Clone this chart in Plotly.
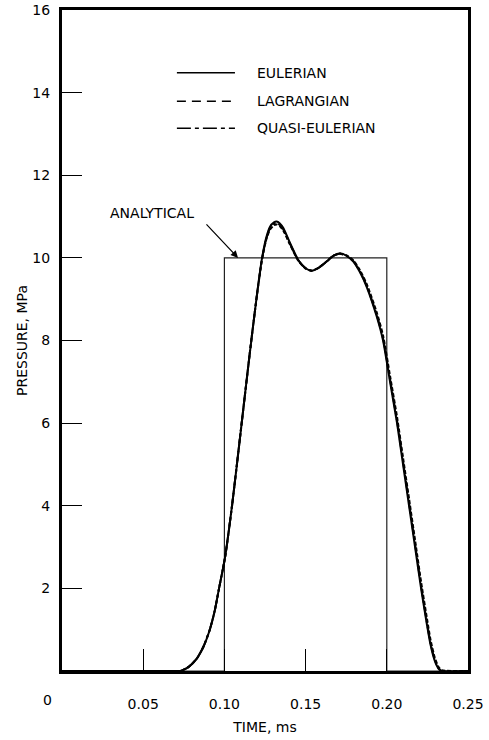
import plotly.graph_objects as go

# ---- data ----
time_ms = [0.0, 0.070, 0.0727, 0.078, 0.083, 0.087, 0.091, 0.094, 0.0967, 0.1004,
           0.1047, 0.1102, 0.1158, 0.1200, 0.123, 0.1255, 0.128, 0.1305, 0.1322, 0.134,
           0.1363, 0.1404, 0.1455, 0.150, 0.1538, 0.158, 0.163, 0.1671, 0.1712, 0.1753,
           0.1794, 0.1835, 0.1876, 0.1938, 0.1977, 0.2020, 0.2063, 0.2100, 0.2137, 0.2174,
           0.2211, 0.2246, 0.2270, 0.2295, 0.2318, 0.2338, 0.25]
eulerian = [0.0, 0.0, 0.0, 0.1, 0.3, 0.58, 1.0, 1.45, 2.0, 2.75,
            4.0, 5.85, 7.75, 9.1, 9.95, 10.45, 10.75, 10.86, 10.88, 10.84,
            10.72, 10.36, 9.95, 9.75, 9.69, 9.76, 9.91, 10.05, 10.11, 10.05,
            9.91, 9.65, 9.3, 8.58, 8.0, 7.0, 6.0, 5.0, 4.0, 3.0,
            2.0, 1.15, 0.62, 0.25, 0.06, 0.0, 0.0]
lagrangian = [0.0, 0.0, 0.0, 0.1, 0.3, 0.58, 1.0, 1.45, 2.0, 2.75,
              4.0, 5.85, 7.75, 9.08, 9.92, 10.4, 10.68, 10.79, 10.81, 10.77,
              10.66, 10.32, 9.93, 9.74, 9.69, 9.76, 9.92, 10.06, 10.1, 10.06,
              9.94, 9.7, 9.37, 8.68, 8.12, 7.14, 6.15, 5.16, 4.17, 3.17,
              2.16, 1.3, 0.74, 0.33, 0.1, 0.02, 0.0]
quasi_eulerian = [0.0, 0.0, 0.0, 0.1, 0.3, 0.58, 1.0, 1.45, 2.0, 2.75,
                  4.0, 5.85, 7.75, 9.09, 9.94, 10.42, 10.71, 10.82, 10.84, 10.8,
                  10.69, 10.34, 9.94, 9.75, 9.69, 9.76, 9.91, 10.05, 10.1, 10.05,
                  9.92, 9.67, 9.33, 8.62, 8.05, 7.06, 6.06, 5.07, 4.07, 3.07,
                  2.06, 1.2, 0.66, 0.28, 0.07, 0.0, 0.0]
analytical_t = [0.0, 0.10, 0.10, 0.20, 0.20, 0.25]
analytical_p = [0.0, 0.0, 10.0, 10.0, 0.0, 0.0]

x_tickvals = [0.05, 0.10, 0.15, 0.20, 0.25]
x_ticktext = ["0.05", "0.10", "0.15", "0.20", "0.25"]
y_tickvals = [2, 4, 6, 8, 10, 12, 14, 16]
y_ticktext = ["2", "4", "6", "8", "10", "12", "14", "16"]
legend_names = ["EULERIAN", "LAGRANGIAN", "QUASI-EULERIAN"]

FONT = "DejaVu Sans"
fig = go.Figure()

fig.add_trace(go.Scatter(x=analytical_t, y=analytical_p, mode="lines",
                         line=dict(color="#222", width=1.2), showlegend=False))
fig.add_trace(go.Scatter(x=time_ms, y=lagrangian, mode="lines",
                         line=dict(color="black", width=2, dash="4px,2px", shape="spline", smoothing=0.6),
                         showlegend=False))
fig.add_trace(go.Scatter(x=time_ms, y=quasi_eulerian, mode="lines",
                         line=dict(color="black", width=2, dash="12px,3px,3px,3px", shape="spline", smoothing=0.6),
                         showlegend=False))
fig.add_trace(go.Scatter(x=time_ms, y=eulerian, mode="lines",
                         line=dict(color="black", width=2, shape="spline", smoothing=0.6),
                         showlegend=False))

# legend drawn manually (paper coordinates)
legend_y = [0.905, 0.862, 0.821]
legend_dash = ["solid", "9px,6px", "14px,4px,4px,4px"]
for name, ly, d in zip(legend_names, legend_y, legend_dash):
    fig.add_shape(type="line", xref="paper", yref="paper", x0=0.283, x1=0.426, y0=ly, y1=ly,
                  line=dict(color="black", width=1.6, dash=d))
    fig.add_annotation(xref="paper", yref="paper", x=0.475, y=ly, text=name, showarrow=False,
                       xanchor="left", yanchor="middle", font=dict(family=FONT, size=14, color="black"))

# analytical label + arrow
fig.add_annotation(x=0.0554, y=11.09, text="ANALYTICAL", showarrow=False,
                   font=dict(family=FONT, size=14, color="black"))
fig.add_annotation(x=0.1084, y=10.0, text="", showarrow=True, ax=-33, ay=-35,
                   arrowhead=2, arrowsize=1.2, arrowwidth=1.2, arrowcolor="black")

# "0" label on x axis, set left of origin as in the reference
fig.add_annotation(x=0.0, y=0.0, text="0", showarrow=False, xshift=-15, yshift=-29,
                   font=dict(family=FONT, size=14, color="black"))

fig.update_xaxes(range=[0, 0.25], tickvals=x_tickvals, ticktext=x_ticktext,
                 ticks="inside", ticklen=22, tickwidth=1.3, tickcolor="black",
                 showline=True, linewidth=3, linecolor="black", mirror=True,
                 showgrid=False, zeroline=False, ticklabelstandoff=18, automargin=False,
                 tickfont=dict(family=FONT, size=14, color="black"),
                 title=dict(text="TIME, ms", font=dict(family=FONT, size=14, color="black"), standoff=12))
fig.update_yaxes(range=[0, 16], tickvals=y_tickvals, ticktext=y_ticktext,
                 ticks="inside", ticklen=20, tickwidth=1.3, tickcolor="black",
                 showline=True, linewidth=3, linecolor="black", mirror=True,
                 showgrid=False, zeroline=False, ticklabelstandoff=6, automargin=False,
                 tickfont=dict(family=FONT, size=14, color="black"),
                 title=dict(text="PRESSURE, MPa", font=dict(family=FONT, size=14, color="black"), standoff=2))

fig.update_layout(width=489, height=740, margin=dict(l=62, r=21, t=10, b=69),
                  plot_bgcolor="white", paper_bgcolor="white", showlegend=False)

fig.write_html("out.html")
